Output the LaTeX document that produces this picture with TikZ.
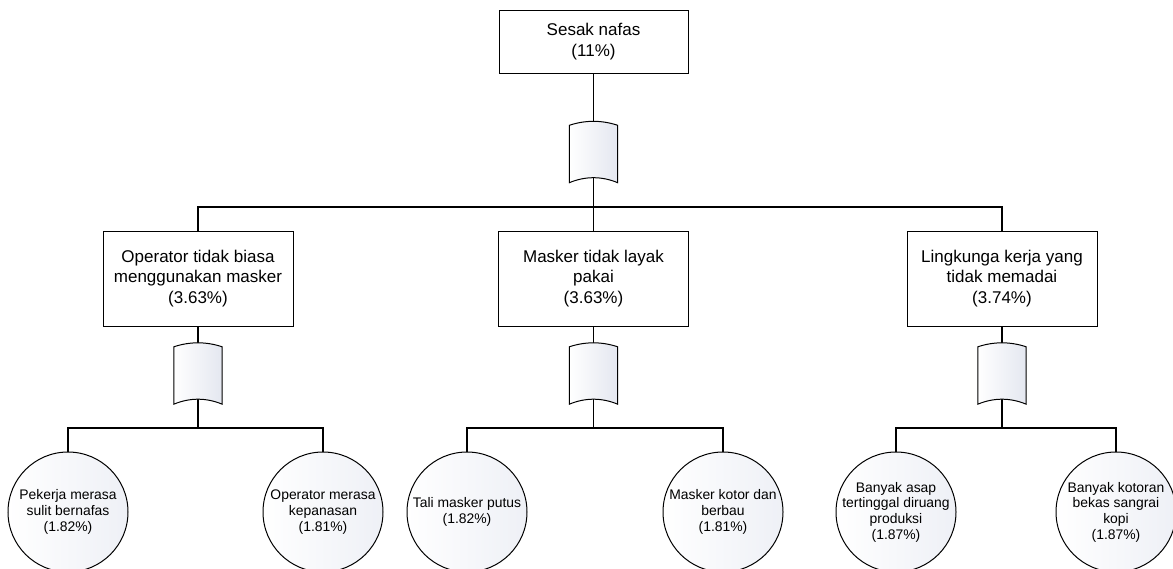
\documentclass[tikz,border=0pt]{standalone}
\usepackage{fontspec}
\setmainfont{Liberation Sans}
\usetikzlibrary{calc,backgrounds}
\definecolor{gateshade}{RGB}{228,231,240}
\definecolor{leafshade}{RGB}{238,240,246}
\tikzset{
  eventbox/.style={draw=black, line width=1pt, fill=white, minimum width=190pt,
    minimum height=95pt, align=center, inner sep=0pt,
    font=\fontsize{17}{20.5}\selectfont},
  topbox/.style={eventbox, minimum width=189pt, minimum height=63pt},
  gatebody/.style={minimum width=48pt, minimum height=61pt, inner sep=0pt},
  gateline/.style={draw=black, line width=1pt, left color=white, right color=gateshade},
  basicevent/.style={circle, draw=black, line width=1pt, minimum size=120pt,
    inner sep=0pt, left color=white, right color=leafshade},
  basictext/.style={align=center, inner sep=0pt, font=\fontsize{13.9}{15.7}\selectfont},
  wire/.style={draw=black, line width=1.2pt},
}
% OR gate outline drawn over an invisible gate node
\newcommand\orgateshape[1]{%
  \path[gateline] ($(#1.north west)+(0,4)$)
    .. controls ($(#1.north west)+(16,-1.33)$) and ($(#1.north east)+(-16,-1.33)$) ..
    ($(#1.north east)+(0,4)$) -- (#1.south east)
    .. controls ($(#1.south east)+(-16,-6.67)$) and ($(#1.south west)+(16,-6.67)$) ..
    (#1.south west) -- cycle;}
\begin{document}
\begin{tikzpicture}[x=1pt, y=-1pt]
\useasboundingbox (0,0) rectangle (1173,568);
\clip (0,0) rectangle (1173,568);

% top event
\node[topbox] (T) at (593.5,41.5) {Sesak nafas\\(11\%)};
\node[gatebody] (G0) at (593.5,152) {};

% intermediate events
\node[eventbox] (A) at (198,278.5) {Operator tidak biasa\\menggunakan masker\\(3.63\%)};
\node[eventbox] (B) at (593.5,278.5) {Masker tidak layak\\pakai\\(3.63\%)};
\node[eventbox] (C) at (1002,278.5) {Lingkunga kerja yang\\tidak memadai\\(3.74\%)};

\node[gatebody] (GA) at (198,373.5) {};
\node[gatebody] (GB) at (593.5,373.5) {};
\node[gatebody] (GC) at (1002,373.5) {};

% basic events
\node[basicevent] (A1) at (68,512) {};
\node[basicevent] (A2) at (323,512) {};
\node[basicevent] (B1) at (467,512) {};
\node[basicevent] (B2) at (723,512) {};
\node[basicevent] (C1) at (896,512) {};
\node[basicevent] (C2) at (1116,512) {};

\node[basictext] (A1t) at (A1.center) {Pekerja merasa\\sulit bernafas\\(1.82\%)};
\node[basictext] (A2t) at (A2.center) {Operator merasa\\kepanasan\\(1.81\%)};
\node[basictext] (B1t) at (B1.center) {Tali masker putus\\(1.82\%)};
\node[basictext] (B2t) at (B2.center) {Masker kotor dan\\berbau\\(1.81\%)};
\node[basictext] (C1t) at (C1.center) {Banyak asap\\tertinggal diruang\\produksi\\(1.87\%)};
\node[basictext] (C2t) at (C2.center) {Banyak kotoran\\bekas sangrai\\kopi\\(1.87\%)};

% junction points of the branch bars
\coordinate (bar0) at (593.5,207);
\coordinate (barA) at (198,428);
\coordinate (barB) at (593.5,428);
\coordinate (barC) at (1002,428);

\begin{scope}[on background layer]
  \draw[wire] (T.south) -- (G0.center) -- (bar0);
  \draw[wire] (bar0) -| (A.north);
  \draw[wire] (bar0) -| (C.north);
  \draw[wire] (bar0) -- (B.north);
  \draw[wire] (A.south) -- (GA.center) -- (barA);
  \draw[wire] (B.south) -- (GB.center) -- (barB);
  \draw[wire] (C.south) -- (GC.center) -- (barC);
  \draw[wire] (barA) -| (A1.north);
  \draw[wire] (barA) -| (A2.north);
  \draw[wire] (barB) -| (B1.north);
  \draw[wire] (barB) -| (B2.north);
  \draw[wire] (barC) -| (C1.north);
  \draw[wire] (barC) -| (C2.north);
\end{scope}

\orgateshape{G0}
\orgateshape{GA}
\orgateshape{GB}
\orgateshape{GC}
\end{tikzpicture}
\end{document}
